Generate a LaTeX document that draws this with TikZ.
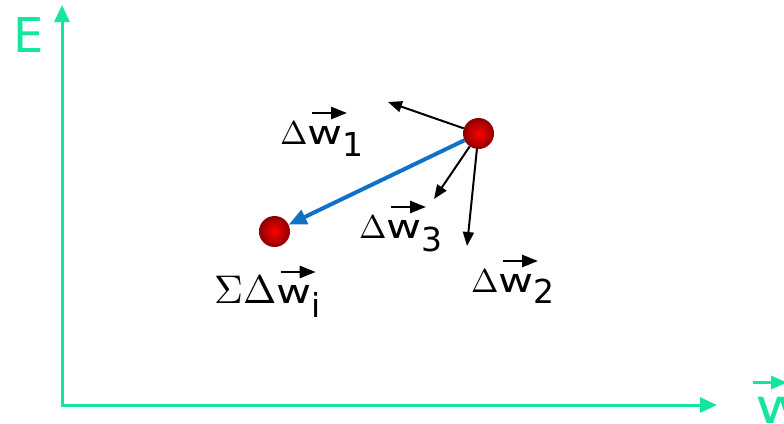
\documentclass[tikz,border=0pt]{standalone}
\usepackage{fontspec}
\setmainfont{DejaVu Sans}
\usepackage{graphicx}
\usepackage{xcolor}
\usepackage{tikz}
\usetikzlibrary{arrows.meta, positioning}

\definecolor{mint}{RGB}{20,230,160}
\definecolor{sumblue}{RGB}{16,114,198}

% w with a vector arrow over it
\newcommand{\vw}{\leavevmode\rlap{\kern3pt\raisebox{31pt}{\tikz[baseline=0pt]\draw[black, line width=2.6pt, -{Triangle[length=16pt,width=12pt]}] (0pt,0pt) -- (35pt,0pt);}}\scalebox{1.3}[1]{w}}
% large upright greek capitals
\newcommand{\gD}{\scalebox{3.3}{\fontsize{10}{12}\selectfont$\Delta$}}
\newcommand{\gSD}{\scalebox{4}{\fontsize{10}{12}\selectfont$\Sigma\Delta$}}

\tikzset{
    axis/.style={draw=mint, line width=3pt},
    ball/.style={circle, minimum size=31pt, inner sep=0pt, shading=radial, inner color=red, outer color=red!55!black},
    lbl/.style={anchor=base west, inner sep=0pt, font=\fontsize{33}{36}\selectfont},
    big/.style={inner sep=0pt, text=mint, font=\fontsize{48}{52}\selectfont},
    dw/.style={draw=black, line width=2pt, -{Triangle[length=14pt,width=11pt]}},
    sum/.style={draw=sumblue, line width=4pt, -{Triangle[length=18pt,width=15pt]}}
}

\begin{document}
\begin{tikzpicture}[x=1pt, y=-1pt]
    \useasboundingbox (0,0) rectangle (784,423);

    % axes
    \coordinate (o) at (62,405);
    \coordinate (ytip) at (62,5);
    \coordinate (xtip) at (717,405);
    \draw[axis, {Triangle[length=17pt,width=15pt]}-{Triangle[length=17pt,width=15pt]}] (ytip) -- (o) -- (xtip);
    \node[big] (elbl) at (28.5,35.5) {E};
    \node[big, anchor=base west] (wlbl) at (755,423) {\scalebox{1.3}[1]{w}};
    \draw[mint, line width=3pt, -{Triangle[length=16pt,width=13pt]}]
        ([xshift=-2pt,yshift=14pt]wlbl.north west) -- ([xshift=32pt,yshift=14pt]wlbl.north west);

    % weights
    \node[ball] (p0) at (478.5,133.5) {};
    \node[ball] (p1) at (274.5,231.5) {};

    \coordinate (t1) at (388,102);
    \coordinate (t3) at (434,199);
    \coordinate (t2) at (467,246);

    \path (p0) edge[dw] (t1)
          (p0) edge[dw] (t3)
          (p0) edge[dw] (t2)
          (p0) edge[sum] (p1);

    % labels
    \node[lbl] (d1) at (280,144) {\gD\vw\raisebox{-12pt}{1}};
    \node[lbl] (d3) at (359,238) {\gD\vw\raisebox{-13pt}{3}};
    \node[lbl] (d2) at (471,292) {\gD\vw\raisebox{-11pt}{2}};
    \node[lbl] (ds) at (214,303) {\gSD\vw\raisebox{-14pt}{i}};
\end{tikzpicture}
\end{document}
